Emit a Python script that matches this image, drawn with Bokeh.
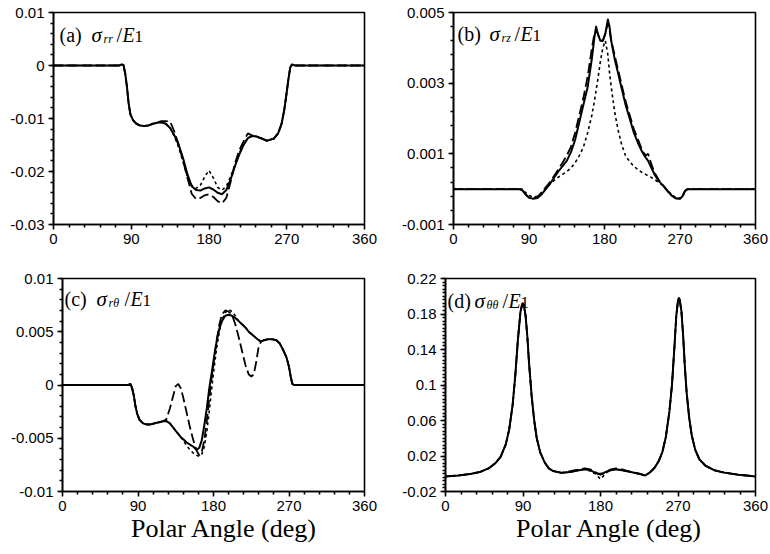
from bokeh.plotting import figure
from bokeh.layouts import column, row
from bokeh.models import Range1d, FixedTicker, Label, Div
from bokeh.embed import file_html
from bokeh.resources import INLINE

# ---------------- data ----------------
X_TICKS = [0, 90, 180, 270, 360]
X_MINOR = [18, 36, 54, 72, 108, 126, 144, 162, 198, 216, 234, 252, 288, 306, 324, 342]

# (a) sigma_rr / E1
A_ANG = [0, 70, 76, 79, 81, 83, 85, 87, 89, 92, 96, 100, 105, 110, 115, 120, 125, 130, 135, 140,
         145, 150, 155, 160, 165, 170, 175, 180, 185, 190, 195, 200, 205, 210, 215, 220, 225, 230,
         235, 240, 247, 255, 260, 264, 267, 270, 272, 274, 276, 278, 280, 290, 360]
A_SOLID = [0, 0, 0, 0.0002, 0.0001, -0.0015, -0.004, -0.0072, -0.0092, -0.0103, -0.0110, -0.0113,
           -0.0114, -0.0113, -0.0110, -0.0108, -0.0107, -0.0110, -0.0118, -0.0132, -0.0150, -0.0175,
           -0.0205, -0.0228, -0.0235, -0.0236, -0.0232, -0.0230, -0.0234, -0.0240, -0.0243, -0.0235,
           -0.0215, -0.0190, -0.0168, -0.0150, -0.0137, -0.0133, -0.0134, -0.0137, -0.0142, -0.0138,
           -0.0128, -0.0110, -0.0085, -0.0050, -0.0025, -0.0004, 0.0002, 0.0001, 0, 0, 0]
A_DASH = [0, 0, 0, 0.0002, 0.0001, -0.0015, -0.004, -0.0072, -0.0092, -0.0103, -0.0110, -0.0113,
          -0.0114, -0.0113, -0.0110, -0.0107, -0.0105, -0.0105, -0.0106, -0.0125, -0.0150, -0.0180,
          -0.0212, -0.0242, -0.0252, -0.0250, -0.0245, -0.0243, -0.0248, -0.0256, -0.0260, -0.0250,
          -0.0220, -0.0185, -0.0160, -0.0143, -0.0128, -0.0132, -0.0135, -0.0137, -0.0142, -0.0138,
          -0.0128, -0.0110, -0.0085, -0.0050, -0.0025, -0.0004, 0.0002, 0.0001, 0, 0, 0]
A_DOT = [0, 0, 0, 0.0002, 0.0001, -0.0015, -0.004, -0.0072, -0.0092, -0.0103, -0.0110, -0.0113,
         -0.0114, -0.0113, -0.0110, -0.0108, -0.0107, -0.0110, -0.0118, -0.0134, -0.0155, -0.0182,
         -0.0210, -0.0226, -0.0232, -0.0226, -0.0210, -0.0198, -0.0212, -0.0230, -0.0235, -0.0228,
         -0.0210, -0.0188, -0.0166, -0.0148, -0.0136, -0.0132, -0.0134, -0.0137, -0.0142, -0.0138,
         -0.0128, -0.0110, -0.0085, -0.0050, -0.0025, -0.0004, 0.0002, 0.0001, 0, 0, 0]

# (b) sigma_rz / E1
B_ANG = [0, 78, 82, 86, 90, 95, 100, 105, 110, 115, 120, 125, 130, 135, 140, 145, 150, 155, 160,
         165, 168, 170, 172, 175, 178, 181, 184, 186, 188, 192, 196, 200, 205, 210, 215, 220, 225,
         229, 232, 236, 240, 245, 250, 255, 260, 265, 270, 273, 276, 279, 360]
B_SOLID = [0, 0, -0.00003, -0.00015, -0.00024, -0.00027, -0.00025, -0.00015, 0.0, 0.00015, 0.00033,
           0.0005, 0.00065, 0.0008, 0.00105, 0.0014, 0.0019, 0.0024, 0.0029, 0.0037, 0.0043, 0.0046,
           0.0044, 0.0042, 0.0042, 0.0044, 0.0048, 0.0046, 0.0042, 0.0037, 0.0033, 0.0029, 0.0024,
           0.0020, 0.0016, 0.0013, 0.00105, 0.0009, 0.0008, 0.0006, 0.0004, 0.00022, 0.0001, -0.00005,
           -0.00018, -0.00026, -0.00027, -0.0002, -0.00005, 0, 0]
B_DASH = [0, 0, -0.00003, -0.00015, -0.00024, -0.00026, -0.00022, -0.0001, 0.00005, 0.0002, 0.00038,
          0.00056, 0.00075, 0.00095, 0.0012, 0.0016, 0.0021, 0.0026, 0.0032, 0.0040, 0.0044, 0.0045,
          0.0044, 0.0042, 0.0042, 0.0044, 0.0047, 0.0045, 0.0042, 0.0038, 0.0034, 0.0030, 0.0025,
          0.0021, 0.0017, 0.0014, 0.0011, 0.00095, 0.001, 0.0007, 0.00045, 0.00025, 0.0001, -0.00005,
          -0.00018, -0.00026, -0.00027, -0.0002, -0.00005, 0, 0]
B_DOT = [0, 0, 0, -0.0001, -0.00018, -0.00022, -0.0002, -0.0001, 0.00005, 0.00015, 0.00025, 0.00034,
         0.00042, 0.0005, 0.0006, 0.00075, 0.00095, 0.0012, 0.0016, 0.0021, 0.0025, 0.0028, 0.0031,
         0.0036, 0.0040, 0.0042, 0.0038, 0.0033, 0.0029, 0.0022, 0.0017, 0.0013, 0.00095, 0.00078,
         0.00065, 0.00055, 0.00047, 0.00042, 0.00038, 0.00033, 0.00027, 0.00018, 0.0001, -0.00003,
         -0.00015, -0.00024, -0.00026, -0.0002, -0.00005, 0, 0]

# (c) sigma_rtheta / E1
C_ANG = [0, 78, 81, 83, 85, 87, 89, 92, 96, 100, 105, 110, 115, 120, 124, 128, 132, 135, 138, 141,
         144, 148, 152, 156, 160, 163, 166, 169, 172, 175, 178, 181, 184, 187, 190, 194, 198, 202,
         206, 210, 214, 218, 222, 225, 228, 231, 234, 237, 240, 245, 250, 255, 259, 263, 267, 270,
         272, 274, 276, 360]
C_SOLID = [0, 0, 0.0001, -0.0003, -0.001, -0.002, -0.0027, -0.0033, -0.0036, -0.0037, -0.0037,
           -0.0036, -0.0035, -0.0034, -0.0034, -0.0036, -0.0040, -0.0043, -0.0046, -0.0049, -0.0051,
           -0.0054, -0.0056, -0.0058, -0.0061, -0.0059, -0.0052, -0.0038, -0.0022, -0.0003, 0.0012,
           0.0028, 0.0042, 0.0053, 0.0060, 0.0065, 0.0066, 0.0065, 0.0063, 0.0060, 0.0057, 0.0054,
           0.0050, 0.0048, 0.0046, 0.0044, 0.0042, 0.0041, 0.0042, 0.0043, 0.0043, 0.0042, 0.0039,
           0.0033, 0.0026, 0.0017, 0.0008, 0.0001, 0, 0]
C_DASH = [0, 0, 0.0001, -0.0003, -0.001, -0.002, -0.0027, -0.0033, -0.0036, -0.0037, -0.0037,
          -0.0036, -0.0035, -0.0034, -0.0032, -0.0022, -0.0010, -0.0001, 0.0001, -0.0003, -0.0012,
          -0.0026, -0.0040, -0.0052, -0.0062, -0.0066, -0.0063, -0.0052, -0.0034, -0.0012, 0.0008,
          0.0026, 0.0043, 0.0057, 0.0066, 0.0070, 0.0069, 0.0066, 0.0057, 0.0045, 0.0032, 0.0019,
          0.0010, 0.0008, 0.0010, 0.0022, 0.0037, 0.0041, 0.0042, 0.0043, 0.0043, 0.0042, 0.0039,
          0.0033, 0.0026, 0.0017, 0.0008, 0.0001, 0, 0]
C_DOT = [0, 0, 0.0001, -0.0003, -0.001, -0.002, -0.0027, -0.0033, -0.0036, -0.0037, -0.0037,
         -0.0036, -0.0035, -0.0034, -0.0034, -0.0036, -0.0040, -0.0043, -0.0046, -0.0049, -0.0052,
         -0.0057, -0.0061, -0.0064, -0.0066, -0.0067, -0.0065, -0.0058, -0.0044, -0.0024, -0.0002,
         0.0018, 0.0036, 0.0050, 0.0061, 0.0068, 0.0071, 0.0069, 0.0065, 0.0060, 0.0057, 0.0054,
         0.0050, 0.0048, 0.0046, 0.0044, 0.0042, 0.0041, 0.0042, 0.0043, 0.0043, 0.0042, 0.0039,
         0.0033, 0.0026, 0.0017, 0.0008, 0.0001, 0, 0]

# (d) sigma_thetatheta / E1
D_ANG = [0, 15, 30, 40, 50, 58, 64, 70, 74, 78, 81, 84, 87, 89, 90, 91, 93, 95, 97, 100, 103, 106,
         110, 115, 120, 125, 135, 145, 155, 162, 168, 174, 177, 180, 183, 186, 192, 198, 205, 215,
         225, 232, 238, 243, 248, 252, 256, 260, 263, 266, 268, 270, 271, 272, 274, 276, 278, 280,
         283, 286, 290, 295, 302, 312, 325, 340, 360]
D_SOLID = [-0.003, -0.002, 0.0, 0.002, 0.006, 0.012, 0.019, 0.033, 0.05, 0.078, 0.11, 0.15, 0.182,
           0.191, 0.192, 0.190, 0.178, 0.155, 0.125, 0.088, 0.06, 0.04, 0.024, 0.013, 0.006, 0.003,
           0.001, 0.002, 0.004, 0.005, 0.004, 0.001, 0.0, 0.0, 0.0005, 0.002, 0.004, 0.005, 0.004,
           0.002, 0.0, -0.002, 0.002, 0.007, 0.015, 0.025, 0.042, 0.07, 0.1, 0.145, 0.178, 0.195,
           0.198, 0.196, 0.183, 0.155, 0.12, 0.092, 0.063, 0.043, 0.027, 0.016, 0.009, 0.004, 0.001,
           -0.001, -0.003]
D_DASH = [-0.003, -0.002, 0.0, 0.002, 0.006, 0.012, 0.019, 0.033, 0.05, 0.078, 0.11, 0.15, 0.182,
          0.191, 0.192, 0.190, 0.178, 0.155, 0.125, 0.088, 0.06, 0.04, 0.024, 0.013, 0.006, 0.003,
          0.001, 0.003, 0.005, 0.006, 0.005, 0.002, 0.0, -0.001, 0.0, 0.002, 0.005, 0.006, 0.005,
          0.002, 0.0, -0.002, 0.002, 0.007, 0.015, 0.025, 0.042, 0.07, 0.1, 0.145, 0.178, 0.195,
          0.198, 0.196, 0.183, 0.155, 0.12, 0.092, 0.063, 0.043, 0.027, 0.016, 0.009, 0.004, 0.001,
          -0.001, -0.003]
D_DOT = [-0.003, -0.002, 0.0, 0.002, 0.006, 0.012, 0.019, 0.033, 0.05, 0.078, 0.11, 0.15, 0.182,
         0.191, 0.192, 0.190, 0.178, 0.155, 0.125, 0.088, 0.06, 0.04, 0.024, 0.013, 0.006, 0.003,
         0.001, 0.002, 0.004, 0.005, 0.003, 0.0, -0.003, -0.006, -0.003, 0.001, 0.004, 0.005, 0.004,
         0.002, 0.0, -0.002, 0.002, 0.007, 0.015, 0.025, 0.042, 0.07, 0.1, 0.145, 0.178, 0.195,
         0.198, 0.196, 0.183, 0.155, 0.12, 0.092, 0.063, 0.043, 0.027, 0.016, 0.009, 0.004, 0.001,
         -0.001, -0.003]

A_YTICKS = [-0.03, -0.02, -0.01, 0.0, 0.01]
A_YLABELS = ["-0.03", "-0.02", "-0.01", "0", "0.01"]
B_YTICKS = [-0.001, 0.001, 0.003, 0.005]
B_YLABELS = ["-0.001", "0.001", "0.003", "0.005"]
C_YTICKS = [-0.01, -0.005, 0.0, 0.005, 0.01]
C_YLABELS = ["-0.01", "-0.005", "0", "0.005", "0.01"]
D_YTICKS = [-0.02, 0.02, 0.06, 0.1, 0.14, 0.18, 0.22]
D_YLABELS = ["-0.02", "0.02", "0.06", "0.1", "0.14", "0.18", "0.22"]

X_TITLE = "Polar Angle (deg)"

SERIF = "Liberation Serif"
SANS = "Liberation Sans"


def minor_list(lo, hi, step):
    n = int(round((hi - lo) / step))
    return [round(lo + i * step, 6) for i in range(n + 1)]


def panel(width, height, bl, br, bt, bb, ylo, yhi, yticks, ylabels, ystep):
    p = figure(width=width, height=height, x_range=Range1d(0, 360), y_range=Range1d(ylo, yhi),
               output_backend="svg", toolbar_location=None,
               min_border_left=bl, min_border_right=br, min_border_top=bt, min_border_bottom=bb)
    p.grid.visible = False
    p.outline_line_color = "black"
    p.outline_line_width = 1.6
    p.background_fill_color = "white"
    p.border_fill_color = "white"
    p.xaxis.ticker = FixedTicker(ticks=X_TICKS, minor_ticks=X_MINOR)
    p.yaxis.ticker = FixedTicker(ticks=yticks, minor_ticks=minor_list(ylo, yhi, ystep))
    p.xaxis.major_label_overrides = {float(t): str(t) for t in X_TICKS}
    p.yaxis.major_label_overrides = {float(t): s for t, s in zip(yticks, ylabels)}
    for ax in (p.xaxis[0], p.yaxis[0]):
        ax.axis_line_color = "black"
        ax.axis_line_width = 1.6
        ax.major_tick_line_color = "black"
        ax.minor_tick_line_color = "black"
        ax.major_tick_line_width = 1.6
        ax.minor_tick_line_width = 1.6
        ax.major_tick_in = 0
        ax.major_tick_out = 5
        ax.minor_tick_in = 0
        ax.minor_tick_out = 3
        ax.major_label_text_font = SANS
        ax.major_label_text_font_size = "15px"
        ax.major_label_text_color = "black"
        ax.major_label_standoff = 4
    return p


def curves(p, ang, solid, dash, dot):
    p.line(ang, dot, line_color="black", line_width=1.6, line_dash="3 3")
    p.line(ang, dash, line_color="black", line_width=1.8, line_dash="10 4")
    p.line(ang, solid, line_color="black", line_width=2.0, line_join="round")


def tag(p, frame_h, x0, base, pieces):
    for text, dx, dy, size, style in pieces:
        p.add_layout(Label(x=x0 + dx, y=frame_h - base - dy, x_units="screen", y_units="screen",
                           text=text, text_font=SERIF, text_font_size=f"{size}px",
                           text_font_style=style, text_baseline="alphabetic", text_align="left",
                           text_color="black"))


# geometry (page has no margin: Bokeh's template sets body margin 0)
TOP_H, BOT_H = 270, 249
FA = 212   # frame height top row
FC = 213   # frame height bottom row

pa = panel(385, TOP_H, 53, 21, 12, 46, -0.03, 0.01, A_YTICKS, A_YLABELS, 0.002)
curves(pa, A_ANG, A_SOLID, A_DASH, A_DOT)
tag(pa, FA, 6, 22, [("(a)", 0, 0, 20, "normal"), ("σ", 32, 0, 21, "italic"),
                    ("rr", 44, 4, 12, "italic"), ("/", 57, 0, 20, "normal"),
                    ("E", 63, 0, 20, "italic"), ("1", 75, 2, 17, "normal")])

pb = panel(385, TOP_H, 68, 15, 12, 46, -0.001, 0.005, B_YTICKS, B_YLABELS, 0.0004)
curves(pb, B_ANG, B_SOLID, B_DASH, B_DOT)
tag(pb, FA, 4, 21, [("(b)", 0, 0, 20, "normal"), ("σ", 32, 0, 21, "italic"),
                    ("rz", 44, 4, 12, "italic"), ("/", 57, 0, 20, "normal"),
                    ("E", 63, 0, 20, "italic"), ("1", 75, 2, 17, "normal")])

pc = panel(385, BOT_H, 62, 21, 8, 28, -0.01, 0.01, C_YTICKS, C_YLABELS, 0.001)
curves(pc, C_ANG, C_SOLID, C_DASH, C_DOT)
tag(pc, FC, 2, 20, [("(c)", 0, 0, 20, "normal"), ("σ", 32, 0, 21, "italic"),
                    ("rθ", 44, 4, 12, "italic"), ("/", 60, 0, 20, "normal"),
                    ("E", 66, 0, 20, "italic"), ("1", 78, 2, 17, "normal")])

pd_ = panel(385, BOT_H, 60, 15, 8, 28, -0.02, 0.22, D_YTICKS, D_YLABELS, 0.004)
curves(pd_, D_ANG, D_SOLID, D_DASH, D_DOT)
tag(pd_, FC, 2, 22, [("(d)", 0, 0, 20, "normal"), ("σ", 27, 0, 21, "italic"),
                     ("θθ", 39, 4, 12, "italic"), ("/", 55, 0, 20, "normal"),
                     ("E", 61, 0, 20, "italic"), ("1", 73, 2, 17, "normal")])

LEFT_SPAN = ('<span style="display:inline-block;width:385px;box-sizing:border-box;'
             'padding-left:131px;font-family:\'Liberation Serif\',\'Times New Roman\',serif;'
             'font-size:26px;line-height:20px;white-space:nowrap;color:black">{}</span>')
RIGHT_SPAN = ('<span style="display:inline-block;width:385px;box-sizing:border-box;'
              'padding-left:131px;font-family:\'Times New Roman\',\'Liberation Serif\','
              '\'DejaVu Serif\',serif;font-size:26px;line-height:20px;white-space:nowrap;'
              'color:black">{}</span>')
right_words = "".join(f'<span style="font-family:inherit">{w}</span> '
                      for w in X_TITLE.split(" ")).rstrip()
titles = Div(text=LEFT_SPAN.format(X_TITLE) + RIGHT_SPAN.format(right_words),
             width=770, height=35,
             styles={"white-space": "nowrap", "margin": "0",
                     "font-family": "'Liberation Serif', serif"})

layout = column(row(pa, pb), row(pc, pd_), titles)

with open("out.html", "w") as f:
    f.write(file_html(layout, INLINE))
